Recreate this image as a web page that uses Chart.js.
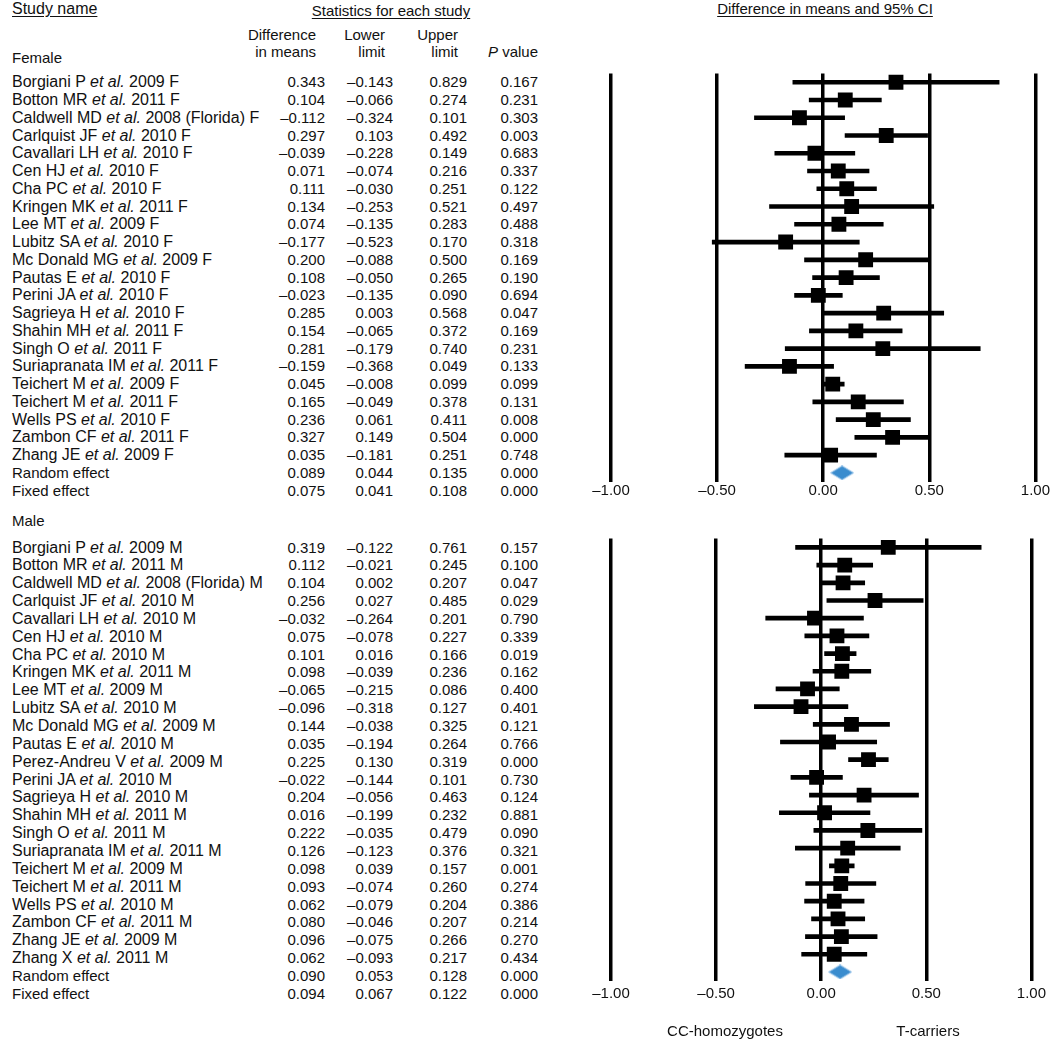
<!DOCTYPE html>
<html><head><meta charset="utf-8">
<script src="https://cdn.jsdelivr.net/npm/chart.js@4.4.1/dist/chart.umd.min.js"></script>
<style>
body{margin:0;background:#fff;width:1050px;height:1045px;position:relative;overflow:hidden;font-family:"Liberation Sans",Arial,Helvetica,sans-serif;color:#111;}
.t{position:absolute;font-size:15px;line-height:18px;white-space:nowrap;}
.n{font-size:16px;}
.u{text-decoration:underline;text-underline-offset:2px;}
.cw{position:absolute;}
</style></head><body>
<div class="cw" style="left:560px;top:60px;"><canvas id="c1" width="490" height="450"></canvas></div>
<div class="cw" style="left:560px;top:525px;"><canvas id="c2" width="490" height="500"></canvas></div>
<div id="txt"></div>
<script>
// ---------------- DATA ----------------
const femaleStudies = ["Borgiani P et al. 2009 F","Botton MR et al. 2011 F","Caldwell MD et al. 2008 (Florida) F","Carlquist JF et al. 2010 F","Cavallari LH et al. 2010 F","Cen HJ et al. 2010 F","Cha PC et al. 2010 F","Kringen MK et al. 2011 F","Lee MT et al. 2009 F","Lubitz SA et al. 2010 F","Mc Donald MG et al. 2009 F","Pautas E et al. 2010 F","Perini JA et al. 2010 F","Sagrieya H et al. 2010 F","Shahin MH et al. 2011 F","Singh O et al. 2011 F","Suriapranata IM et al. 2011 F","Teichert M et al. 2009 F","Teichert M et al. 2011 F","Wells PS et al. 2010 F","Zambon CF et al. 2011 F","Zhang JE et al. 2009 F"];
const femaleDiff  = [0.343,0.104,-0.112,0.297,-0.039,0.071,0.111,0.134,0.074,-0.177,0.200,0.108,-0.023,0.285,0.154,0.281,-0.159,0.045,0.165,0.236,0.327,0.035];
const femaleLower = [-0.143,-0.066,-0.324,0.103,-0.228,-0.074,-0.030,-0.253,-0.135,-0.523,-0.088,-0.050,-0.135,0.003,-0.065,-0.179,-0.368,-0.008,-0.049,0.061,0.149,-0.181];
const femaleUpper = [0.829,0.274,0.101,0.492,0.149,0.216,0.251,0.521,0.283,0.170,0.500,0.265,0.090,0.568,0.372,0.740,0.049,0.099,0.378,0.411,0.504,0.251];
const femaleP     = [0.167,0.231,0.303,0.003,0.683,0.337,0.122,0.497,0.488,0.318,0.169,0.190,0.694,0.047,0.169,0.231,0.133,0.099,0.131,0.008,0.000,0.748];
const femaleRandom = [0.089,0.044,0.135,0.000];
const femaleFixed  = [0.075,0.041,0.108,0.000];

const maleStudies = ["Borgiani P et al. 2009 M","Botton MR et al. 2011 M","Caldwell MD et al. 2008 (Florida) M","Carlquist JF et al. 2010 M","Cavallari LH et al. 2010 M","Cen HJ et al. 2010 M","Cha PC et al. 2010 M","Kringen MK et al. 2011 M","Lee MT et al. 2009 M","Lubitz SA et al. 2010 M","Mc Donald MG et al. 2009 M","Pautas E et al. 2010 M","Perez-Andreu V et al. 2009 M","Perini JA et al. 2010 M","Sagrieya H et al. 2010 M","Shahin MH et al. 2011 M","Singh O et al. 2011 M","Suriapranata IM et al. 2011 M","Teichert M et al. 2009 M","Teichert M et al. 2011 M","Wells PS et al. 2010 M","Zambon CF et al. 2011 M","Zhang JE et al. 2009 M","Zhang X et al. 2011 M"];
const maleDiff  = [0.319,0.112,0.104,0.256,-0.032,0.075,0.101,0.098,-0.065,-0.096,0.144,0.035,0.225,-0.022,0.204,0.016,0.222,0.126,0.098,0.093,0.062,0.080,0.096,0.062];
const maleLower = [-0.122,-0.021,0.002,0.027,-0.264,-0.078,0.016,-0.039,-0.215,-0.318,-0.038,-0.194,0.130,-0.144,-0.056,-0.199,-0.035,-0.123,0.039,-0.074,-0.079,-0.046,-0.075,-0.093];
const maleUpper = [0.761,0.245,0.207,0.485,0.201,0.227,0.166,0.236,0.086,0.127,0.325,0.264,0.319,0.101,0.463,0.232,0.479,0.376,0.157,0.260,0.204,0.207,0.266,0.217];
const maleP     = [0.157,0.100,0.047,0.029,0.790,0.339,0.019,0.162,0.400,0.401,0.121,0.766,0.000,0.730,0.124,0.881,0.090,0.321,0.001,0.274,0.386,0.214,0.270,0.434];
const maleRandom = [0.090,0.053,0.128,0.000];
const maleFixed  = [0.094,0.067,0.122,0.000];

const xTickValues = [-1,-0.5,0,0.5,1];
const xTickLabels = ["\u20131.00","\u20130.50","0.00","0.50","1.00"];
// --------------------------------------

const FONT = '"Liberation Sans", Arial, Helvetica, sans-serif';
const txt = document.getElementById('txt');
function put(html, x, yc, align, cls){
  const d = document.createElement('div');
  d.className = 't' + (cls ? ' ' + cls : '');
  d.style.top = (yc - 9) + 'px';
  if (align === 'right') d.style.right = (1050 - x) + 'px';
  else if (align === 'center') { d.style.left = (x - 200) + 'px'; d.style.width = '400px'; d.style.textAlign = 'center'; }
  else d.style.left = x + 'px';
  d.innerHTML = html;
  txt.appendChild(d);
}
function fmt(v){ return (v < 0 ? '\u2013' : '') + Math.abs(v).toFixed(3); }
function nm(s){ return s.replace('et al.', '<i>et al.</i>'); }
const COLS = [325, 393, 467, 538];

function table(names, diff, lo, up, p, rnd, fix, y0, step){
  const rows = names.map((n,i)=>[nm(n), diff[i], lo[i], up[i], p[i], 'n']);
  rows.push(['Random effect', ...rnd, '']);
  rows.push(['Fixed effect', ...fix, '']);
  rows.forEach((r,i)=>{
    const y = y0 + step*i;
    put(r[0], 12, y, 'left', r[5]);
    for (let c=0;c<4;c++) put(fmt(r[c+1]), COLS[c], y, 'right');
  });
}

// headers
put('Study name', 12, 9, 'left', 'u n');
put('Statistics for each study', 391, 11, 'center', 'u');
put('Difference in means and 95% CI', 825, 9, 'center', 'u');
put('Difference', 316, 35, 'right');
put('in means', 316, 52, 'right');
put('Lower', 385, 35, 'right');
put('limit', 385, 52, 'right');
put('Upper', 458, 35, 'right');
put('limit', 458, 52, 'right');
put('<i>P</i> value', 538, 52, 'right');
put('Female', 12, 58, 'left');
put('Male', 12, 521, 'left');
put('CC-homozygotes', 725, 1031, 'center');
put('T-carriers', 928, 1031, 'center');

table(femaleStudies, femaleDiff, femaleLower, femaleUpper, femaleP, femaleRandom, femaleFixed, 82.3, 17.75);
table(maleStudies, maleDiff, maleLower, maleUpper, maleP, maleRandom, maleFixed, 547.5, 17.85);

// diamond point style
const dia = document.createElement('canvas');
dia.width = 24; dia.height = 15;
(function(){
  const g = dia.getContext('2d');
  g.beginPath(); g.moveTo(0.5,7.5); g.lineTo(12,0.5); g.lineTo(23.5,7.5); g.lineTo(12,14.5); g.closePath();
  g.fillStyle = '#3a8cce'; g.fill();
  g.strokeStyle = '#9cc6ea'; g.lineWidth = 1; g.stroke();
})();

function forest(id, names, diff, lo, up, rnd, padTop, padBottom, tickPad){
  const labels = names.concat(['Random effect']);
  const ci = lo.map((l,i)=>[l, up[i]]).concat([null]);
  const sq = diff.map((d,i)=>({x:d, y:labels[i]}));
  const dm = [{x:rnd[0], y:'Random effect'}];
  new Chart(document.getElementById(id), {
    type: 'bar',
    data: { labels, datasets: [
      { type:'bar', data: ci, backgroundColor:'#000', borderWidth:0, barThickness:4, order:3 },
      { type:'scatter', data: sq, pointStyle:'rect', pointRadius:10.5, pointHoverRadius:10.5, backgroundColor:'#000', borderColor:'#000', borderWidth:0, order:2 },
      { type:'scatter', data: dm, pointStyle: dia, pointRadius:10, order:1 }
    ]},
    options: {
      indexAxis: 'y', responsive:false, animation:false, events:[],
      layout: { padding: { left:51, right:14, top:padTop, bottom:padBottom } },
      plugins: { legend:{display:false}, tooltip:{enabled:false}, title:{display:false} },
      scales: {
        x: { type:'linear', min:-1, max:1,
             afterBuildTicks: s => { s.ticks = xTickValues.map(v=>({value:v})); },
             ticks: { callback: (v,i) => xTickLabels[i], font:{size:15, family:FONT}, color:'#111', padding:tickPad, autoSkip:false, maxRotation:0 },
             grid: { color:'#000', lineWidth:3.5, drawTicks:false },
             border: { display:false } },
        y: { type:'category', display:false, offset:true }
      }
    }
  });
}
// top: chart area 73.4 .. 481.7 (page)  => canvas top 60
forest('c1', femaleStudies, femaleDiff, femaleLower, femaleUpper, femaleRandom, 13.4, 450 - (481.7-60) - 18, 0);
// bottom: chart area 538.6 .. 984.8 (page) => canvas top 525
forest('c2', maleStudies, maleDiff, maleLower, maleUpper, maleRandom, 13.6, 500 - (984.8-525) - 22, 4);
</script>
</body></html>
